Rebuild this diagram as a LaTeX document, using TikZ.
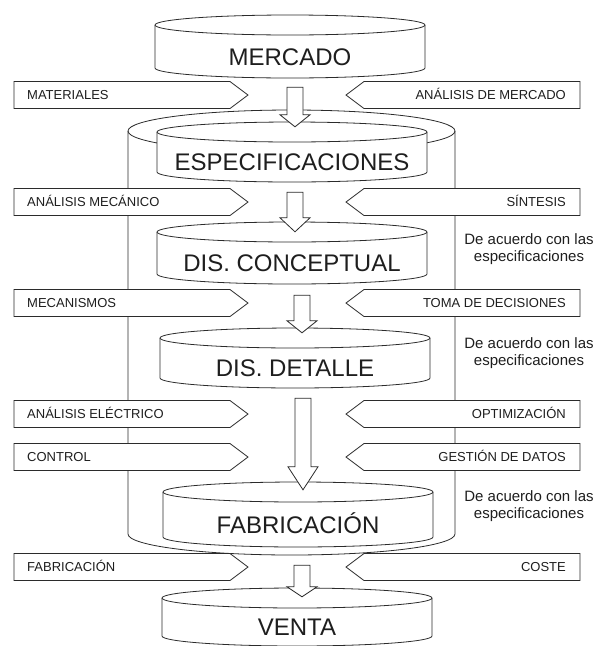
\documentclass[tikz,border=0pt]{standalone}
\usepackage{fontspec}
\setmainfont{Liberation Sans}
\usetikzlibrary{calc}
\definecolor{inkline}{HTML}{2B2B2B}
\definecolor{inktext}{HTML}{1E1E1E}

% one stage: name, centre x, top ellipse y, body height, label
\newcommand{\stagecyl}[5]{%
  \filldraw[cylline] (#2,#3) ++(-135pt,0pt) -- ++(0pt,-#4pt)
    arc[start angle=180,end angle=360,x radius=135pt,y radius=10pt]
    -- ++(0pt,#4pt)
    arc[start angle=0,end angle=180,x radius=135pt,y radius=10pt] -- cycle;
  \draw[cylline] (#2,#3) ++(-135pt,0pt)
    arc[start angle=180,end angle=360,x radius=135pt,y radius=10pt];
  \node[stage, minimum height=#4pt] (#1) at ([yshift={-#4pt/2-10pt}]#2,#3) {#5};
}
% tabs pointing to the middle: name, middle y, label
\newcommand{\lefttab}[3]{%
  \filldraw[tab] (14,#2) ++(0pt,13.5pt) -- ++(216pt,0pt) -- ++(18pt,-13.5pt)
    -- ++(-18pt,-13.5pt) -- ++(-216pt,0pt) -- cycle;
  \node[tablabel, anchor=west] (#1) at (27,#2) {#3};
}
\newcommand{\righttab}[3]{%
  \filldraw[tab] (580,#2) ++(0pt,13.5pt) -- ++(-216pt,0pt) -- ++(-18pt,-13.5pt)
    -- ++(18pt,-13.5pt) -- ++(216pt,0pt) -- cycle;
  \node[tablabel, anchor=east] (#1) at (566,#2) {#3};
}

\begin{document}
\begin{tikzpicture}[x=1pt, y=-1pt,
  cylline/.style={draw=inkline, fill=white, line width=0.8pt},
  stage/.style={inner sep=0pt, text=inktext, font=\fontsize{24}{28}\selectfont,
    text height=17pt, text depth=0pt},
  tab/.style={draw=inkline, fill=white, line width=0.8pt},
  tablabel/.style={inner sep=0pt, text=inktext, font=\fontsize{13}{15}\selectfont,
    text height=9.3pt, text depth=0pt},
  note/.style={align=center, text=inktext, font=\fontsize{15}{17.5}\selectfont},
  blockarrow/.style={draw=inkline, fill=white, line width=0.8pt,
    to path={let \p1=(\tikztostart), \p2=(\tikztotarget) in
      (\x1-8pt,\y1) -- (\x1-8pt,\y2+#1) -- (\x1-15pt,\y2+#1) -- (\x1,\y2)
      -- (\x1+15pt,\y2+#1) -- (\x1+8pt,\y2+#1) -- (\x1+8pt,\y1) -- cycle}},
  blockarrow/.default=12pt
]
  \useasboundingbox (0,0) rectangle (595,646);

  % Outer cylinder
  \draw[draw=inkline, line width=0.8pt] (128,131) -- (128,534)
    arc[start angle=180,end angle=360,x radius=163.5pt,y radius=21pt] -- (455,131);
  \draw[draw=inkline, line width=0.8pt] (291.5,131) ellipse [x radius=163.5pt, y radius=21pt];

  % Stages
  \stagecyl{mercado}{290}{25}{43}{MERCADO}
  \stagecyl{especif}{292}{132}{40}{ESPECIFICACIONES}
  \stagecyl{concept}{292}{232}{42}{DIS. CONCEPTUAL}
  \stagecyl{detalle}{295}{338}{40}{DIS. DETALLE}
  \stagecyl{fabric}{298}{492}{45}{FABRICACIÓN}
  \stagecyl{venta}{297}{598}{38}{VENTA}

  % Tabs
  \lefttab{materiales}{95}{MATERIALES}
  \righttab{anmercado}{95}{ANÁLISIS DE MERCADO}
  \lefttab{anmecanico}{202}{ANÁLISIS MECÁNICO}
  \righttab{sintesis}{202}{SÍNTESIS}
  \lefttab{mecanismos}{303}{MECANISMOS}
  \righttab{decisiones}{303}{TOMA DE DECISIONES}
  \lefttab{anelectrico}{414}{ANÁLISIS ELÉCTRICO}
  \righttab{optimiz}{414}{OPTIMIZACIÓN}
  \lefttab{control}{457}{CONTROL}
  \righttab{datos}{457}{GESTIÓN DE DATOS}
  \lefttab{fabricacion}{567}{FABRICACIÓN}
  \righttab{coste}{567}{COSTE}

  % Arrows
  \path[blockarrow] ([xshift=5pt,yshift=-9pt]mercado.south) to ([yshift=15pt]especif.north);
  \path[blockarrow=14pt] ([xshift=3pt,yshift=-10pt]especif.south) to ([yshift=10pt]concept.north);
  \path[blockarrow] ([xshift=10pt,yshift=-11pt]concept.south) to ([yshift=15pt]detalle.north);
  \path[blockarrow=23pt] ([xshift=8pt,yshift=-10pt]detalle.south) to ([yshift=12pt]fabric.north);
  \path[blockarrow=10pt] ([xshift=4pt,yshift=-18pt]fabric.south) to ([yshift=11pt]venta.north);

  % Notes
  \node[note] (nota1) at (529,249) {De acuerdo con las\\especificaciones};
  \node[note] (nota2) at (529,353) {De acuerdo con las\\especificaciones};
  \node[note] (nota3) at (529,506) {De acuerdo con las\\especificaciones};
\end{tikzpicture}
\end{document}
